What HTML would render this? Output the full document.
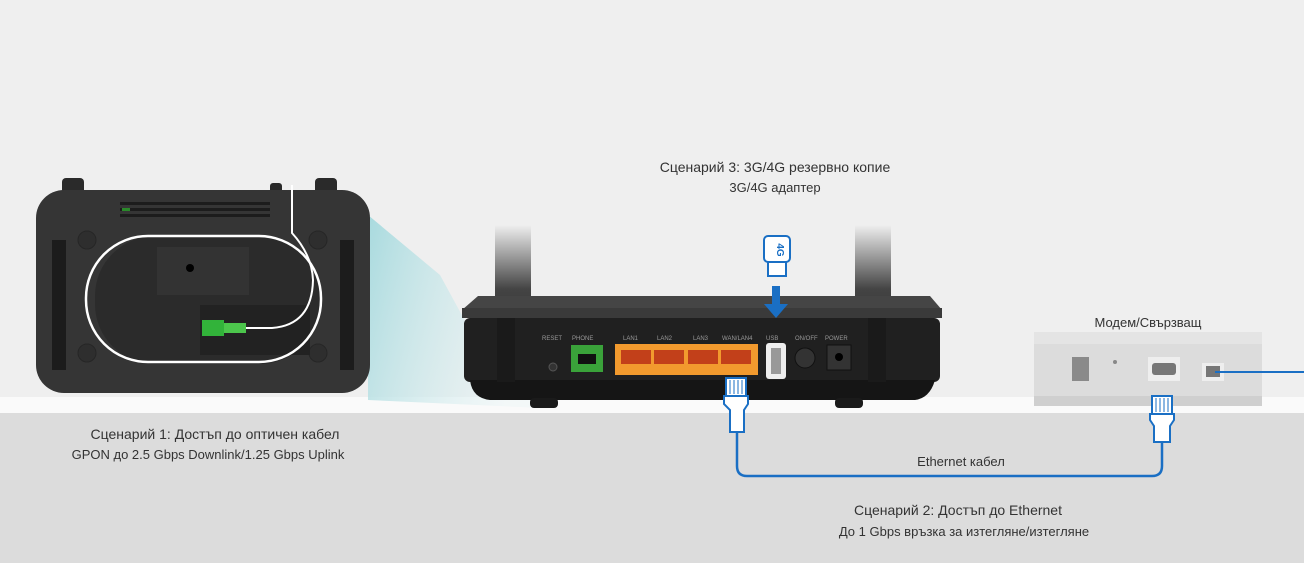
<!DOCTYPE html>
<html><head><meta charset="utf-8"><style>
html,body{margin:0;padding:0;width:1304px;height:563px;overflow:hidden;background:#efefef}
svg{display:block}
text{font-family:"Liberation Sans",sans-serif;fill:#333}
</style></head><body>
<svg width="1304" height="563" viewBox="0 0 1304 563" xmlns="http://www.w3.org/2000/svg">
<defs>
<linearGradient id="ant" x1="0" y1="0" x2="0" y2="1"><stop offset="0" stop-color="#efefef"/><stop offset="0.4" stop-color="#444"/><stop offset="1" stop-color="#1c1c1c"/></linearGradient>
<linearGradient id="cy" x1="0" y1="0" x2="1" y2="0.3"><stop offset="0" stop-color="#a8dade"/><stop offset="1" stop-color="#e8f4f5" stop-opacity="0.4"/></linearGradient>
</defs>
<rect x="0" y="0" width="1304" height="397" fill="#efefef"/>
<rect x="0" y="397" width="1304" height="16" fill="#fafafa"/>
<rect x="0" y="413" width="1304" height="150" fill="#dcdcdc"/>
<polygon points="368,215 440,275 470,330 540,408 368,400" fill="url(#cy)"/>
<rect x="62" y="178" width="22" height="18" rx="4" fill="#2a2a2a"/>
<rect x="315" y="178" width="22" height="18" rx="4" fill="#2a2a2a"/>
<rect x="270" y="183" width="12" height="12" rx="3" fill="#2a2a2a"/>
<rect x="36" y="190" width="334" height="203" rx="28" fill="#353535"/>
<g fill="#1c1c1c"><rect x="120" y="202" width="150" height="3"/><rect x="120" y="208" width="150" height="3"/><rect x="120" y="214" width="150" height="3"/>
<rect x="52" y="240" width="14" height="130"/><rect x="340" y="240" width="14" height="130"/></g>
<rect x="122" y="208" width="8" height="3" fill="#2a8a2a"/>
<circle cx="87" cy="240" r="9" fill="#2e2e2e" stroke="#262626"/><circle cx="318" cy="240" r="9" fill="#2e2e2e" stroke="#262626"/>
<circle cx="87" cy="353" r="9" fill="#2e2e2e" stroke="#262626"/><circle cx="318" cy="353" r="9" fill="#2e2e2e" stroke="#262626"/>
<rect x="95" y="236" width="225" height="128" rx="60" fill="#2b2b2b"/>
<rect x="157" y="247" width="92" height="48" fill="#333"/>
<circle cx="190" cy="268" r="4" fill="#000"/>
<rect x="200" y="305" width="110" height="50" fill="#222"/>
<rect x="86" y="236" width="235" height="126" rx="62" fill="none" stroke="#fff" stroke-width="2.5"/>
<path d="M292,185 V233 Q312,255 313,280 Q312,325 272,328 H245" fill="none" stroke="#fff" stroke-width="2"/>
<rect x="202" y="320" width="22" height="16" fill="#32b33a"/><rect x="224" y="323" width="22" height="10" fill="#4cc64c"/>
<rect x="495" y="225" width="36" height="160" fill="url(#ant)"/>
<rect x="855" y="225" width="36" height="160" fill="url(#ant)"/>
<polygon points="462,310 478,296 930,296 942,310" fill="#454545"/>
<rect x="462" y="308" width="480" height="10" fill="#3a3a3a"/>
<rect x="464" y="318" width="476" height="64" rx="6" fill="#202020"/>
<path d="M470,380 H935 Q930,398 915,400 H490 Q472,398 470,380Z" fill="#151515"/>
<rect x="530" y="398" width="28" height="10" rx="4" fill="#1a1a1a"/><rect x="835" y="398" width="28" height="10" rx="4" fill="#1a1a1a"/>
<rect x="497" y="318" width="18" height="64" fill="#1a1a1a"/><rect x="868" y="318" width="18" height="64" fill="#1a1a1a"/>
<g font-size="6"><text x="542" y="340" style="fill:#999">RESET</text><text x="572" y="340" style="fill:#999">PHONE</text><text x="623" y="340" style="fill:#999">LAN1</text><text x="657" y="340" style="fill:#999">LAN2</text><text x="693" y="340" style="fill:#999">LAN3</text><text x="722" y="340" style="fill:#999">WAN/LAN4</text><text x="766" y="340" style="fill:#999">USB</text><text x="795" y="340" style="fill:#999">ON/OFF</text><text x="825" y="340" style="fill:#999">POWER</text></g>
<circle cx="553" cy="367" r="4" fill="#333" stroke="#555"/>
<rect x="571" y="345" width="32" height="27" fill="#3aa23a"/><rect x="578" y="354" width="18" height="10" fill="#111"/>
<rect x="615" y="344" width="143" height="31" fill="#f29a2e"/>
<g fill="#c2401a"><rect x="621" y="350" width="30" height="14"/><rect x="654" y="350" width="30" height="14"/><rect x="688" y="350" width="30" height="14"/><rect x="721" y="350" width="30" height="14"/></g>
<rect x="766" y="343" width="20" height="36" rx="3" fill="#eee"/><rect x="771" y="348" width="10" height="26" fill="#999"/>
<circle cx="805" cy="358" r="10" fill="#333" stroke="#111"/>
<rect x="827" y="345" width="24" height="25" fill="#333" stroke="#111"/><circle cx="839" cy="357" r="4" fill="#000"/>
<rect x="764" y="236" width="26" height="26" rx="4" fill="#fff" stroke="#1a6fc4" stroke-width="2"/>
<rect x="768" y="262" width="18" height="14" fill="#fff" stroke="#1a6fc4" stroke-width="2"/>
<text x="777" y="250" font-size="10" font-weight="bold" transform="rotate(90 777 250)" text-anchor="middle" style="fill:#1a6fc4">4G</text>
<rect x="772" y="286" width="8" height="18" fill="#1a6fc4"/><polygon points="764,304 788,304 776,318" fill="#1a6fc4"/>
<polygon points="1044,332 1252,332 1262,343 1262,402 1252,406 1044,406 1034,402 1034,343" fill="#dcdcdc"/>
<rect x="1034" y="332" width="228" height="12" fill="#e4e4e4"/>
<rect x="1034" y="396" width="228" height="10" fill="#cfcfcf"/>
<rect x="1072" y="357" width="17" height="24" fill="#8a8a8a"/>
<circle cx="1115" cy="362" r="2" fill="#888"/>
<rect x="1148" y="357" width="32" height="24" fill="#eeeeee"/><rect x="1152" y="363" width="24" height="12" rx="3" fill="#777"/>
<rect x="1202" y="363" width="22" height="18" fill="#eeeeee"/><rect x="1206" y="366" width="14" height="11" fill="#777"/>
<line x1="1215" y1="372" x2="1304" y2="372" stroke="#1a6fc4" stroke-width="2"/>
<path d="M737,432 V466 Q737,476 747,476 H1152 Q1162,476 1162,466 V432" fill="none" stroke="#1a6fc4" stroke-width="2.5"/>
<g fill="#fff" stroke="#1a6fc4" stroke-width="2">
<rect x="726" y="378" width="20" height="18"/><path d="M724,396 H748 V404 L744,410 V432 H730 V410 L724,404Z"/>
<rect x="1152" y="396" width="20" height="18"/><path d="M1150,414 H1174 V420 L1170,426 V442 H1154 V426 L1150,420Z"/>
</g>
<g stroke="#1a6fc4" stroke-width="1"><line x1="730" y1="380" x2="730" y2="394"/><line x1="734" y1="380" x2="734" y2="394"/><line x1="738" y1="380" x2="738" y2="394"/><line x1="742" y1="380" x2="742" y2="394"/>
<line x1="1156" y1="398" x2="1156" y2="412"/><line x1="1160" y1="398" x2="1160" y2="412"/><line x1="1164" y1="398" x2="1164" y2="412"/><line x1="1168" y1="398" x2="1168" y2="412"/></g>
<text x="775" y="172" font-size="14" text-anchor="middle">Сценарий 3: 3G/4G резервно копие</text>
<text x="775" y="192" font-size="13" text-anchor="middle">3G/4G адаптер</text>
<text x="215" y="439" font-size="14" text-anchor="middle">Сценарий 1: Достъп до оптичен кабел</text>
<text x="208" y="459" font-size="13" text-anchor="middle">GPON до 2.5 Gbps Downlink/1.25 Gbps Uplink</text>
<text x="961" y="466" font-size="13" text-anchor="middle">Ethernet кабел</text>
<text x="958" y="515" font-size="14" text-anchor="middle">Сценарий 2: Достъп до Ethernet</text>
<text x="964" y="536" font-size="13" text-anchor="middle">До 1 Gbps връзка за изтегляне/изтегляне</text>
<text x="1148" y="327" font-size="13" text-anchor="middle">Модем/Свързващ</text>
</svg>
</body></html>
